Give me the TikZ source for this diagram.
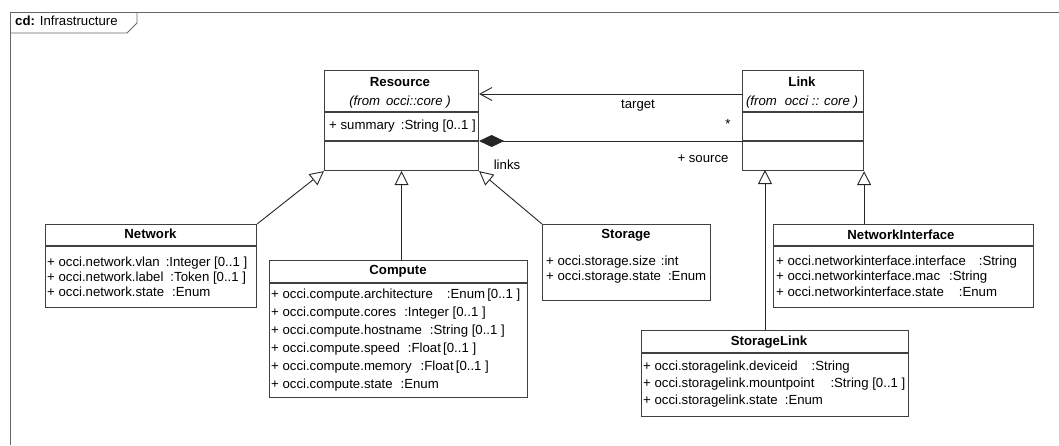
\documentclass[tikz,border=0pt]{standalone}
\usepackage{fontspec}
\setmainfont{Liberation Sans}
\usetikzlibrary{arrows.meta}

\newcommand{\tgap}[1]{\hspace*{#1pt}}

\tikzset{
  cls/.style={draw=black!75, line width=1.1pt, fill=white, inner sep=0pt, anchor=north west},
  clsline/.style={draw=black!75, line width=1.1pt},
  ttl/.style={font=\bfseries, inner sep=0pt, anchor=mid},
  sub/.style={font=\itshape, inner sep=0pt, anchor=mid},
  attr/.style={inner sep=0pt, anchor=mid west},
  lbl/.style={inner sep=0pt, anchor=mid},
  gen/.style={draw=black!85, line width=0.9pt, -{Triangle[open, length=14pt, width=14pt]}},
  assoc/.style={draw=black!85, line width=0.9pt, -{Straight Barb[length=12pt, width=13pt]}},
  comp/.style={draw=black!85, line width=0.9pt, {Diamond[length=25pt, width=12pt]}-},
  frame/.style={draw=black!60, line width=0.9pt}
}

\begin{document}
\fontsize{13.2}{15}\selectfont
\begin{tikzpicture}[x=1pt, y=-1pt]
  \useasboundingbox (0,0) rectangle (1059,445);

  % diagram frame
  \draw[frame] (10,445) -- (10,12) -- (1059,12);
  \draw[frame] (10,33) -- (127,33) -- (137,23) -- (137,12);
  \node[attr] (frametitle) at (15,22) {\textbf{cd:} Infrastructure};

  % Resource
  \node[cls, minimum width=154, minimum height=100] (res) at (324,70) {};
  \draw[clsline] (res.west |- 0,112) -- (res.east |- 0,112);
  \draw[clsline] (res.west |- 0,141) -- (res.east |- 0,141);
  \node[ttl] (resname) at (400,83) {Resource};
  \node[sub] (resfrom) at (400,102) {(from\tgap{6}occi::core )};
  \node[attr] (resa1) at (329,126) {+ summary\tgap{6}:String [0..1 ]};

  % Link
  \node[cls, minimum width=121, minimum height=100] (lnk) at (742,70) {};
  \draw[clsline] (lnk.west |- 0,112) -- (lnk.east |- 0,112);
  \draw[clsline] (lnk.west |- 0,141) -- (lnk.east |- 0,141);
  \node[ttl] (lnkname) at (802,83) {Link};
  \node[sub] (lnkfrom) at (802,102) {(from\tgap{8}occi :: core )};

  % Network
  \node[cls, minimum width=211, minimum height=83] (net) at (45,224) {};
  \draw[clsline] (net.west |- 0,246) -- (net.east |- 0,246);
  \node[ttl] (netname) at (150.5,235) {Network};
  \node[attr] (neta1) at (47,263) {+ occi.network.vlan\tgap{6}:Integer [0..1 ]};
  \node[attr] (neta2) at (47,278) {+ occi.network.label\tgap{7}:Token [0..1 ]};
  \node[attr] (neta3) at (47,293) {+ occi.network.state\tgap{8}:Enum};

  % Compute
  \node[cls, minimum width=258, minimum height=137] (cmp) at (269,260) {};
  \draw[clsline] (cmp.west |- 0,283) -- (cmp.east |- 0,283);
  \node[ttl] (cmpname) at (398,271) {Compute};
  \node[attr] (cmpa1) at (271,295) {+ occi.compute.architecture\tgap{14}:Enum\,[0..1 ]};
  \node[attr] (cmpa2) at (271,313) {+ occi.compute.cores\tgap{8}:Integer [0..1 ]};
  \node[attr] (cmpa3) at (271,331) {+ occi.compute.hostname\tgap{8}:String [0..1 ]};
  \node[attr] (cmpa4) at (271,349) {+ occi.compute.speed\tgap{8}:Float\,[0..1 ]};
  \node[attr] (cmpa5) at (271,367) {+ occi.compute.memory\tgap{9}:Float\,[0..1 ]};
  \node[attr] (cmpa6) at (271,385) {+ occi.compute.state\tgap{8}:Enum};

  % Storage
  \node[cls, minimum width=168, minimum height=76] (sto) at (542,224) {};
  \node[ttl] (stoname) at (626,235) {Storage};
  \node[attr] (stoa1) at (546,262) {+ occi.storage.size\tgap{5}:int};
  \node[attr] (stoa2) at (546,277) {+ occi.storage.state\tgap{7}:Enum};

  % NetworkInterface
  \node[cls, minimum width=260, minimum height=83] (ni) at (773,224) {};
  \draw[clsline] (ni.west |- 0,246) -- (ni.east |- 0,246);
  \node[ttl] (niname) at (901,236) {NetworkInterface};
  \node[attr] (nia1) at (776,262) {+ occi.networkinterface.interface\tgap{13}:String};
  \node[attr] (nia2) at (776,277) {+ occi.networkinterface.mac\tgap{9}:String};
  \node[attr] (nia3) at (776,293) {+ occi.networkinterface.state\tgap{15}:Enum};

  % StorageLink
  \node[cls, minimum width=267, minimum height=86] (sl) at (641,330) {};
  \draw[clsline] (sl.west |- 0,353) -- (sl.east |- 0,353);
  \node[ttl] (slname) at (769,342) {StorageLink};
  \node[attr] (sla1) at (643,367) {+ occi.storagelink.deviceid\tgap{14}:String};
  \node[attr] (sla2) at (643,384) {+ occi.storagelink.mountpoint\tgap{16}:String [0..1 ]};
  \node[attr] (sla3) at (643,401) {+ occi.storagelink.state\tgap{7}:Enum};

  % generalizations
  \draw[gen] (net.north east) -- (res.south west);
  \draw[gen] (cmp.north -| res.south) -- (res.south);
  \draw[gen] (sto.north west) -- (res.south east);
  \coordinate (slgen) at (765,170);
  \draw[gen] (sl.north -| slgen) -- (slgen);
  \draw[gen] (ni.north -| lnk.south east) -- (lnk.south east);

  % target / links
  \draw[assoc] ([yshift=-24pt]lnk.north west) -- ([yshift=-24pt]res.north east);
  \draw[comp] ([yshift=-71pt]res.north east) -- ([yshift=-71pt]lnk.north west);
  \node[lbl] (lbltarget) at (638,105) {target};
  \node[lbl] (lblmult) at (728,125) {*};
  \node[lbl] (lblsource) at (703,159) {+ source};
  \node[lbl] (lbllinks) at (507,166) {links};
\end{tikzpicture}
\end{document}
